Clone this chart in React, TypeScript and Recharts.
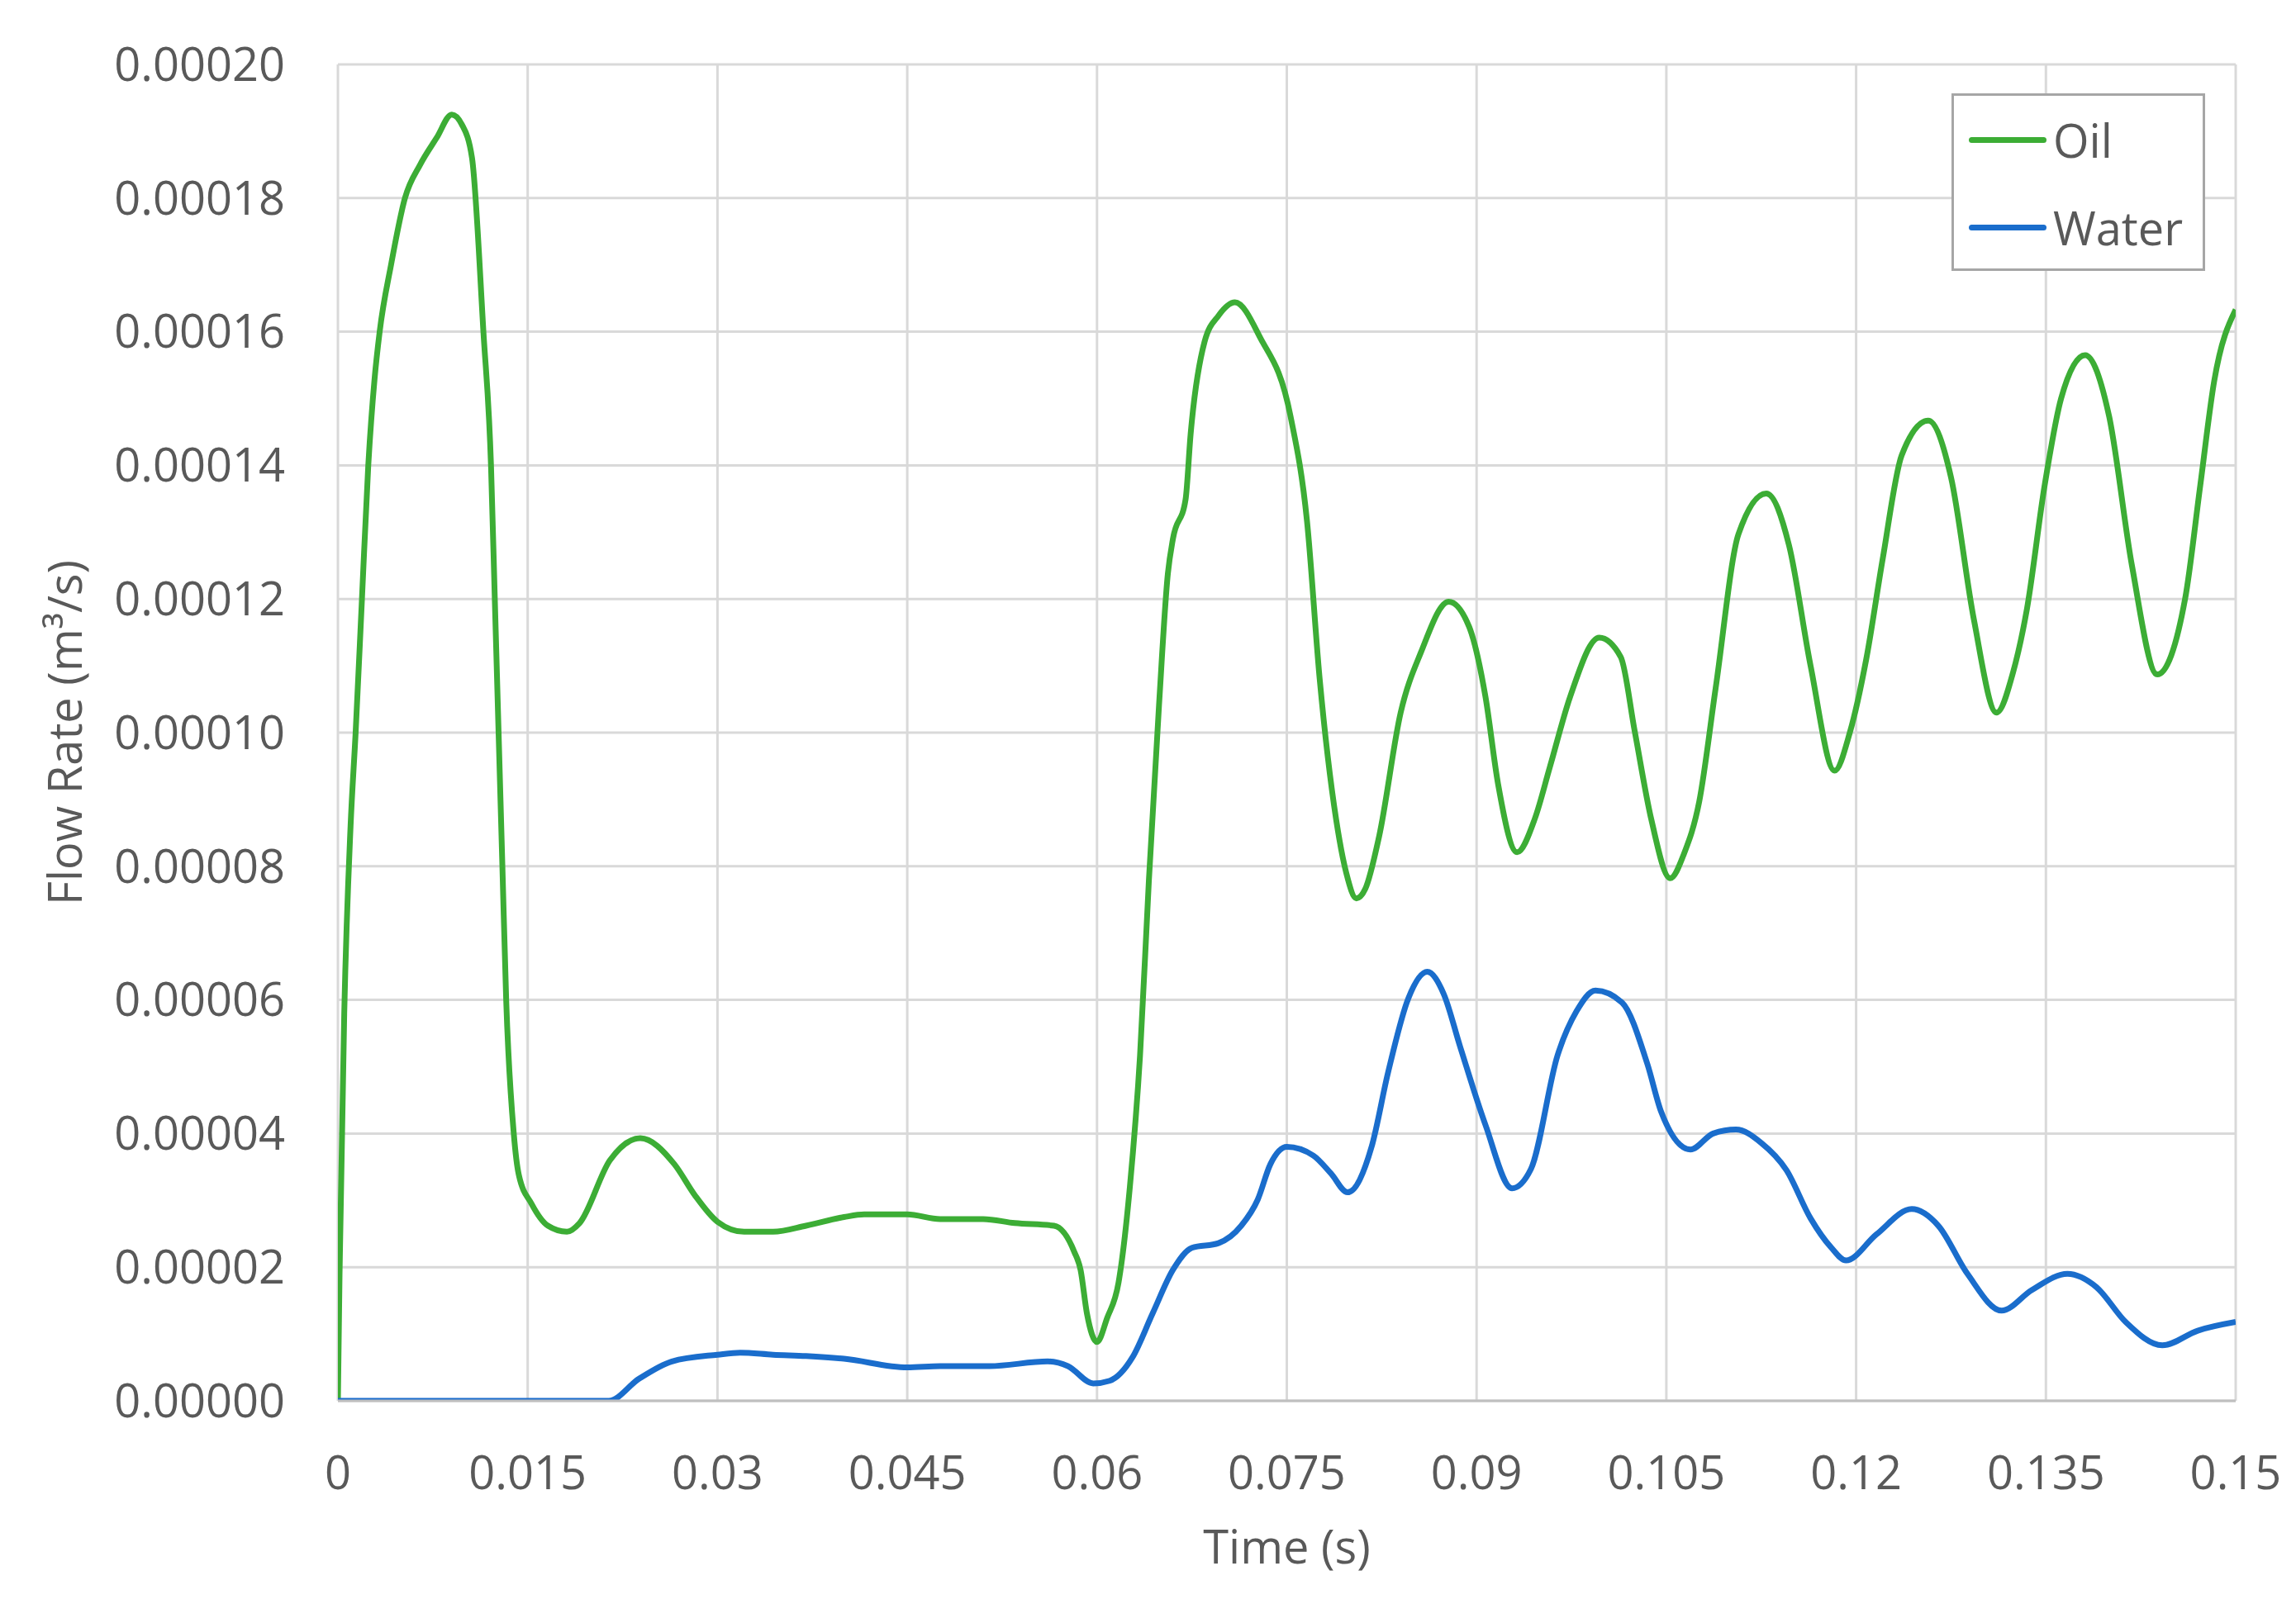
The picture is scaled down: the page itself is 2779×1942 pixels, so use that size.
import React from 'react';
import { LineChart, Line, XAxis, YAxis, CartesianGrid, Legend } from 'recharts';

const timeTicks = [0, 0.015, 0.03, 0.045, 0.06, 0.075, 0.09, 0.105, 0.12, 0.135, 0.15];
const flowTicks = [0, 0.00002, 0.00004, 0.00006, 0.00008, 0.0001, 0.00012, 0.00014, 0.00016, 0.00018, 0.0002];

// Oil flow rate
const oilTime = [
  0, 0.00013, 0.0005, 0.001, 0.0014, 0.0019, 0.0024, 0.0029, 0.0033, 0.0042, 0.0053, 0.0065, 0.0078, 0.009,
  0.0098, 0.0106, 0.0115, 0.0121, 0.0124, 0.0127, 0.013, 0.0133, 0.0139, 0.0143, 0.0153, 0.0166, 0.0181,
  0.0191, 0.0215, 0.0239, 0.0266, 0.0282, 0.03, 0.0321, 0.0344, 0.037, 0.04, 0.0416, 0.045, 0.0476, 0.051,
  0.0535, 0.0566, 0.0582, 0.0587, 0.0592, 0.06, 0.0608, 0.0617, 0.0626, 0.0634, 0.0641, 0.0649, 0.0656,
  0.066, 0.067, 0.0674, 0.0685, 0.0696, 0.0709, 0.0729, 0.0753, 0.0766, 0.0776, 0.0789, 0.0797, 0.0805,
  0.0812, 0.0823, 0.084, 0.0856, 0.0878, 0.0894, 0.0907, 0.0917, 0.0932, 0.0946, 0.0958, 0.0974, 0.0997,
  0.1014, 0.1025, 0.1038, 0.1053, 0.1064, 0.1076, 0.1089, 0.1107, 0.1129, 0.1147, 0.1164, 0.1183, 0.1195,
  0.1208, 0.1221, 0.1236, 0.1257, 0.1275, 0.1293, 0.1311, 0.1324, 0.1335, 0.1349, 0.1362, 0.1381, 0.14,
  0.1418, 0.1438, 0.146, 0.1472, 0.1483, 0.15,
];
const oilFlow = [
  0, 0.000019, 0.000058, 0.000086, 0.0001, 0.00012, 0.00014, 0.000153, 0.00016, 0.00017, 0.00018, 0.000185,
  0.000189, 0.0001925, 0.000191, 0.000186, 0.00016, 0.00014, 0.00012, 0.0001, 0.00008, 0.00006, 0.00004,
  0.0000338, 0.0000295, 0.0000262, 0.0000253, 0.0000266, 0.000036, 0.0000393, 0.0000354, 0.0000308,
  0.0000268, 0.0000253, 0.0000253, 0.0000262, 0.0000275, 0.0000279, 0.0000279, 0.0000272, 0.0000272,
  0.0000266, 0.0000262, 0.0000223, 0.0000196, 0.0000131, 0.0000088, 0.0000124, 0.0000177, 0.0000321,
  0.0000517, 0.0000779, 0.0001041, 0.0001238, 0.000129, 0.0001349, 0.0001447, 0.0001585, 0.0001624,
  0.0001644, 0.0001591, 0.0001473, 0.0001316, 0.000108, 0.000087, 0.000079, 0.0000752, 0.0000766,
  0.0000845, 0.000103, 0.000112, 0.0001196, 0.0001159, 0.0001054, 0.0000923, 0.0000821, 0.0000871,
  0.0000949, 0.0001054, 0.0001142, 0.0001113, 0.0001002, 0.0000871, 0.0000782, 0.0000819, 0.0000897,
  0.0001067, 0.0001297, 0.0001358, 0.000128, 0.00011, 0.0000943, 0.0001, 0.000111, 0.000126, 0.0001415,
  0.0001467, 0.0001382, 0.000117, 0.000103, 0.000109, 0.0001185, 0.000137, 0.00015, 0.0001565, 0.0001473,
  0.000125, 0.0001087, 0.00012, 0.000137, 0.0001526, 0.0001633,
];

// Water flow rate
const waterTime = [
  0, 0.0214, 0.0238, 0.0264, 0.03, 0.0318, 0.0344, 0.037, 0.04, 0.045, 0.0476, 0.0515, 0.0561, 0.0577,
  0.0597, 0.061, 0.0628, 0.0644, 0.066, 0.0675, 0.0696, 0.0714, 0.0727, 0.0737, 0.075, 0.0771, 0.0785,
  0.0798, 0.0817, 0.083, 0.0846, 0.0861, 0.0874, 0.0887, 0.0907, 0.0928, 0.0943, 0.0964, 0.0979, 0.0994,
  0.1015, 0.1035, 0.1046, 0.1069, 0.1087, 0.1105, 0.1125, 0.1145, 0.1164, 0.118, 0.1192, 0.1216, 0.1244,
  0.1265, 0.1288, 0.1315, 0.1339, 0.1367, 0.139, 0.1413, 0.1442, 0.147, 0.15,
];
const waterFlow = [
  0, 0, 0.0000033, 0.0000059, 0.0000069, 0.0000072, 0.0000069, 0.0000067, 0.0000063, 0.000005, 0.0000052,
  0.0000052, 0.0000059, 0.0000052, 0.0000026, 0.000003, 0.0000065, 0.0000131, 0.0000196, 0.0000229,
  0.0000236, 0.0000262, 0.0000301, 0.0000354, 0.000038, 0.0000367, 0.000034, 0.0000312, 0.000038,
  0.0000491, 0.0000602, 0.0000642, 0.0000609, 0.000053, 0.0000413, 0.0000318, 0.0000347, 0.0000517,
  0.0000583, 0.0000614, 0.0000596, 0.0000504, 0.0000432, 0.0000376, 0.00004, 0.0000406, 0.0000386,
  0.0000345, 0.0000273, 0.000023, 0.000021, 0.0000249, 0.0000287, 0.0000262, 0.000019, 0.0000135,
  0.0000166, 0.000019, 0.000017, 0.0000118, 0.0000083, 0.0000105, 0.0000118,
];

const oilData = oilTime.map((t, i) => ({ time: t, flow: oilFlow[i] }));
const waterData = waterTime.map((t, i) => ({ time: t, flow: waterFlow[i] }));

const FONT = '"Open Sans", sans-serif';
const TEXT = '#595959';
const GRID = '#d9d9d9';
const OIL = '#3cad35';
const WATER = '#1a6dcc';

const renderLegend = (props: any) => (
  <div
    style={{
      width: 307,
      height: 215,
      boxSizing: 'border-box',
      border: '3px solid #a6a6a6',
      background: '#fff',
      fontFamily: FONT,
      fontSize: 56,
      color: TEXT,
      paddingTop: 0,
    }}
  >
    {props.payload.map((entry: any) => (
      <div key={entry.value} style={{ display: 'flex', alignItems: 'center', height: 106 }}>
        <div style={{ marginLeft: 18, width: 94, height: 7, borderRadius: 3.5, background: entry.color }} />
        <span style={{ marginLeft: 8, lineHeight: 1 }}>{entry.value}</span>
      </div>
    ))}
  </div>
);

const XTitle = (props: any) => {
  const vb = props.viewBox;
  return (
    <text x={vb.x + vb.width / 2} y={vb.y + 197} textAnchor="middle" fill={TEXT} fontSize={56} fontFamily={FONT}>
      Time (s)
    </text>
  );
};

const YTitle = (props: any) => {
  const vb = props.viewBox;
  const cy = vb.y + vb.height / 2;
  return (
    <text x={99} y={cy} transform={`rotate(-90, 99, ${cy})`} textAnchor="middle" fill={TEXT} fontSize={56} fontFamily={FONT}>
      Flow Rate (m³/s)
    </text>
  );
};

export default function App() {
  return (
    <div style={{ position: 'absolute', left: 0, top: 0, background: '#fff' }}>
      <LineChart width={2779} height={1942} margin={{ top: 78, right: 73, left: 0, bottom: 0 }}>
        <CartesianGrid stroke={GRID} strokeWidth={3} />
        <XAxis
          type="number"
          dataKey="time"
          domain={[0, 0.15]}
          ticks={timeTicks}
          interval={0}
          allowDataOverflow
          height={246}
          tickLine={false}
          tickSize={0}
          tickMargin={67}
          axisLine={{ stroke: '#bfbfbf', strokeWidth: 3 }}
          tick={{ fill: TEXT, fontSize: 56, fontFamily: FONT }}
          tickFormatter={(v: number) => String(v)}
          label={<XTitle />}
        />
        <YAxis
          type="number"
          domain={[0, 0.0002]}
          ticks={flowTicks}
          interval={0}
          allowDataOverflow
          width={409}
          tickLine={false}
          tickSize={0}
          tickMargin={64}
          axisLine={false}
          tick={{ fill: TEXT, fontSize: 56, fontFamily: FONT }}
          tickFormatter={(v: number) => v.toFixed(5)}
          label={<YTitle />}
        />
        <Legend
          layout="vertical"
          align="center"
          verticalAlign="middle"
          content={renderLegend}
          wrapperStyle={{ left: 2362, top: 113, width: 307, height: 215 }}
        />
        <Line
          data={oilData}
          dataKey="flow"
          name="Oil"
          type="monotone"
          stroke={OIL}
          strokeWidth={7}
          dot={false}
          activeDot={false}
          isAnimationActive={false}
        />
        <Line
          data={waterData}
          dataKey="flow"
          name="Water"
          type="monotone"
          stroke={WATER}
          strokeWidth={7}
          dot={false}
          activeDot={false}
          isAnimationActive={false}
        />
      </LineChart>
    </div>
  );
}
